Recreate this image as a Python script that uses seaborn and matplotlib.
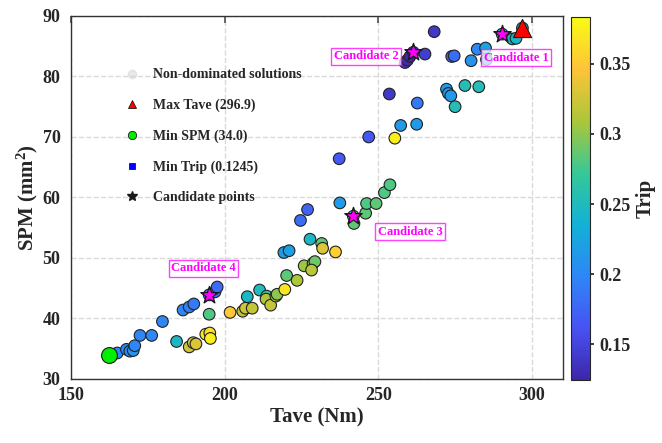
import numpy as np
import pandas as pd
import seaborn as sns
import matplotlib.pyplot as plt
from matplotlib.colors import LinearSegmentedColormap, Normalize
from matplotlib.cm import ScalarMappable
from matplotlib.lines import Line2D

# Non-dominated solutions
tave = [162.5, 165.1, 168.1, 169.2, 170.3, 170.8, 172.5, 176.3, 179.8, 184.4,
        186.5, 188.5, 190.0, 195.0, 196.9, 197.6, 195.0, 188.5, 189.8, 190.7,
        193.9, 195.2, 195.4, 201.8, 205.9, 206.8, 209.0, 207.4, 211.4, 213.7,
        213.5, 215.0, 216.7, 217.1, 219.6, 220.2, 223.6, 225.9, 228.8, 229.4,
        228.3, 219.3, 221.0, 227.8, 231.6, 231.9, 236.1, 224.7, 227.0, 237.5,
        241.9, 242.1, 245.9, 246.2, 249.3, 252.0, 253.8, 237.3, 246.9, 255.4,
        257.3, 262.5, 253.6, 262.7, 272.2, 272.8, 273.6, 275.0, 278.2, 282.7,
        258.7, 259.5, 260.3, 261.4, 265.2, 268.2, 273.9, 274.7, 280.2, 282.2,
        284.9, 285.2, 290.3, 293.6, 294.8, 296.9]
spm = [34.0, 34.3, 34.9, 34.6, 34.7, 35.5, 37.2, 37.2, 39.5, 36.2,
       41.4, 41.9, 42.4, 43.9, 44.4, 45.2, 40.7, 35.3, 36.0, 35.8,
       37.4, 37.6, 36.7, 41.0, 41.2, 41.7, 41.7, 43.6, 44.7, 43.7,
       43.2, 42.2, 43.7, 44.0, 44.8, 47.1, 46.3, 48.7, 49.1, 49.4,
       48.0, 50.9, 51.2, 53.1, 52.4, 51.6, 51.0, 56.2, 58.0, 59.1,
       56.9, 55.7, 57.4, 59.0, 59.0, 60.8, 62.1, 66.4, 70.0, 69.8,
       71.9, 72.1, 77.1, 75.6, 77.9, 77.2, 76.8, 75.0, 78.5, 78.3,
       82.3, 82.7, 83.3, 84.0, 83.7, 87.4, 83.3, 83.4, 82.6, 84.5,
       84.7, 82.8, 87.0, 86.2, 86.3, 88.0]
trip = [0.200, 0.200, 0.200, 0.205, 0.210, 0.200, 0.200, 0.200, 0.200, 0.245,
        0.200, 0.195, 0.190, 0.190, 0.185, 0.180, 0.280, 0.325, 0.325, 0.330,
        0.370, 0.365, 0.375, 0.350, 0.320, 0.325, 0.320, 0.245, 0.250, 0.270,
        0.310, 0.320, 0.310, 0.300, 0.370, 0.285, 0.310, 0.305, 0.300, 0.290,
        0.315, 0.215, 0.220, 0.245, 0.285, 0.330, 0.355, 0.180, 0.175, 0.215,
        0.285, 0.285, 0.285, 0.280, 0.285, 0.280, 0.280, 0.165, 0.165, 0.375,
        0.215, 0.215, 0.140, 0.190, 0.215, 0.215, 0.215, 0.255, 0.255, 0.255,
        0.135, 0.130, 0.1245, 0.130, 0.145, 0.140, 0.180, 0.180, 0.210, 0.200,
        0.225, 0.220, 0.240, 0.245, 0.245, 0.250]

# Extremes
max_tave = (296.9, 88.0)
min_spm = (162.5, 34.0)
min_trip = (260.3, 83.3)

# Candidate points
cand_names = ['Candidate 1', 'Candidate 2', 'Candidate 3', 'Candidate 4']
cand_tave = [290.3, 261.4, 241.9, 195.0]
cand_spm = [87.0, 84.0, 56.9, 43.9]

trip_min, trip_max = 0.1245, 0.3835

df = pd.DataFrame({'Tave': tave, 'SPM': spm, 'Trip': trip})

# parula-like colormap
parula = LinearSegmentedColormap.from_list('parula', [
    (0.2422, 0.1504, 0.6603), (0.2810, 0.3228, 0.9579), (0.1786, 0.5289, 0.9682),
    (0.0689, 0.6948, 0.8394), (0.2161, 0.7843, 0.5923), (0.6720, 0.7793, 0.2227),
    (0.9970, 0.7659, 0.2199), (0.9769, 0.9839, 0.0805)])

sns.set_theme(style='white')
plt.rcParams['font.family'] = ['Liberation Serif', 'DejaVu Serif']
plt.rcParams['font.weight'] = 'bold'
plt.rcParams['mathtext.fontset'] = 'custom'
plt.rcParams['mathtext.rm'] = 'Liberation Serif:bold'
plt.rcParams['mathtext.it'] = 'Liberation Serif:bold'

fig = plt.figure(figsize=(6.62, 4.43), dpi=100)
ax = fig.add_axes([0.107, 0.1445, 0.743, 0.8195])
cax = fig.add_axes([0.8625, 0.142, 0.029, 0.82])

norm = Normalize(vmin=trip_min, vmax=trip_max)

ax.scatter(*min_trip, marker='s', s=30, color='blue', edgecolor='k', lw=0.6, zorder=1)
sns.scatterplot(data=df, x='Tave', y='SPM', hue='Trip', palette=parula, hue_norm=norm,
                s=70, edgecolor='#222222', linewidth=0.8, legend=False, ax=ax, zorder=3)
ax.scatter(*max_tave, marker='^', s=170, color='red', edgecolor='k', lw=0.8, zorder=4)
ax.scatter(*min_spm, marker='o', s=130, color='#00ee00', edgecolor='k', lw=0.8, zorder=4)
ax.scatter(cand_tave, cand_spm, marker='*', s=170, color='k', zorder=5)
ax.scatter(cand_tave, cand_spm, marker='*', s=55, color='magenta', zorder=6)

offsets = [(10, -17), (-34, -3), (41, -11), (-4, 19)]
for name, x, y, off in zip(cand_names, cand_tave, cand_spm, offsets):
    ax.annotate(name, (x, y), xytext=off, textcoords='offset points',
                ha='center', va='center', color='magenta', fontsize=9, fontweight='bold',
                bbox=dict(boxstyle='square,pad=0.2', fc='white', ec='magenta', alpha=0.75, lw=1),
                zorder=7)

ax.set_xlim(150, 310)
ax.set_ylim(30, 90)
ax.set_xticks([150, 200, 250, 300])
ax.set_yticks([30, 40, 50, 60, 70, 80, 90])
ax.grid(True, ls='--', color='0.85', lw=1)
ax.set_axisbelow(True)
for sp in ax.spines.values():
    sp.set_color('#333333')
    sp.set_linewidth(1)
ax.tick_params(axis='x', direction='in', top=True, length=5, labelsize=13, color='#555555', pad=6)
ax.tick_params(axis='y', direction='out', length=4, labelsize=13, color='#555555')
ax.set_xlabel('Tave (Nm)', fontsize=15, fontweight='bold', labelpad=2)
ax.set_ylabel('SPM (mm$^2$)', fontsize=15, fontweight='bold', labelpad=2)

handles = [
    Line2D([], [], ls='', marker='o', ms=6, color='lightgray', alpha=0.5),
    Line2D([], [], ls='', marker='^', ms=6, mfc='red', mec='k', mew=0.6),
    Line2D([], [], ls='', marker='o', ms=6, mfc='#00ee00', mec='k', mew=0.6),
    Line2D([], [], ls='', marker='s', ms=5, mfc='blue', mec='k', mew=0.6),
    Line2D([], [], ls='', marker='*', ms=7, color='k'),
]
labels = ['Non-dominated solutions', 'Max Tave (296.9)', 'Min SPM (34.0)',
          'Min Trip (0.1245)', 'Candidate points']
ax.legend(handles, labels, loc='upper left', bbox_to_anchor=(0.085, 0.89), frameon=False,
          labelspacing=1.25, handletextpad=1.0, handlelength=1.0,
          prop={'weight': 'bold', 'size': 10})

cb = fig.colorbar(ScalarMappable(norm=norm, cmap=parula), cax=cax)
cb.set_ticks([0.15, 0.2, 0.25, 0.3, 0.35])
cb.set_ticklabels(['0.15', '0.2', '0.25', '0.3', '0.35'])
cb.ax.tick_params(labelsize=13, length=3)
cb.outline.set_linewidth(0.8)
cb.set_label('Trip', fontsize=15, fontweight='bold', labelpad=4)

fig.savefig('out.png', dpi=100)
